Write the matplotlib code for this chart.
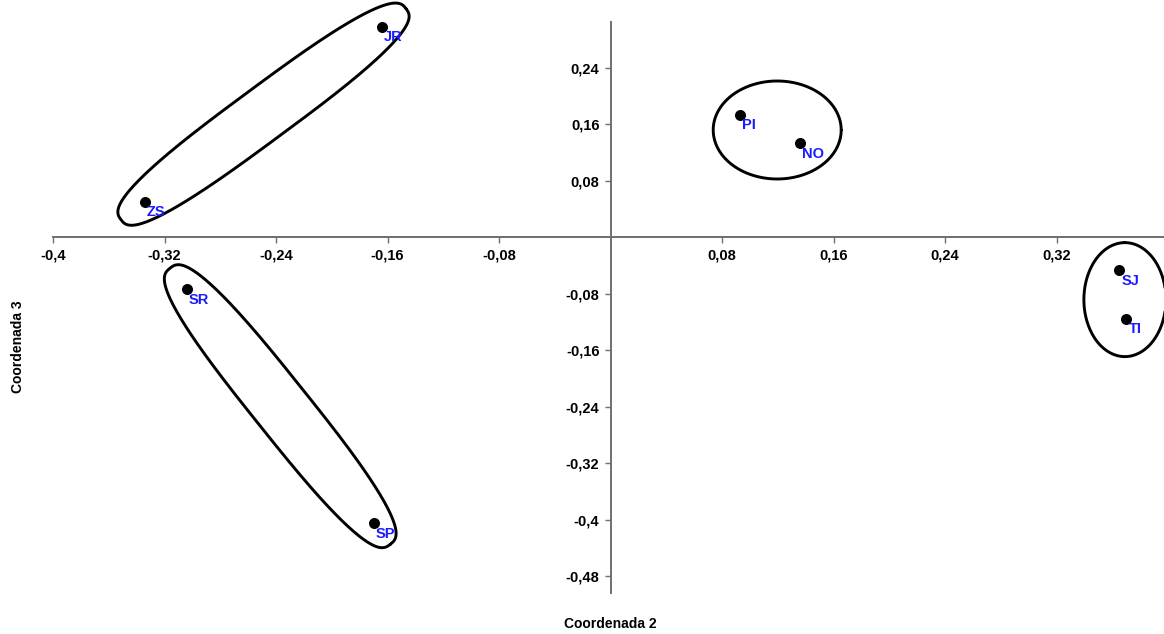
import numpy as np
import matplotlib
matplotlib.use("Agg")
import matplotlib.pyplot as plt

# ---- data ----
labels = ["JR", "ZS", "PI", "NO", "SR", "SP", "SJ", "TI"]
coord2 = [-0.164, -0.334, 0.093, 0.136, -0.304, -0.170, 0.365, 0.370]
coord3 = [0.298, 0.050, 0.173, 0.133, -0.074, -0.405, -0.047, -0.116]
xticks = [-0.4, -0.32, -0.24, -0.16, -0.08, 0.08, 0.16, 0.24, 0.32]
xticklabels = ["-0,4", "-0,32", "-0,24", "-0,16", "-0,08", "0,08", "0,16", "0,24", "0,32"]
yticks = [0.24, 0.16, 0.08, -0.08, -0.16, -0.24, -0.32, -0.4, -0.48]
yticklabels = ["0,24", "0,16", "0,08", "-0,08", "-0,16", "-0,24", "-0,32", "-0,4", "-0,48"]
groups = [["ZS", "JR"], ["SR", "SP"], ["PI", "NO"], ["SJ", "TI"]]

plt.rcParams['font.family'] = ['Liberation Sans', 'DejaVu Sans']

fig = plt.figure(figsize=(11.64, 6.34), dpi=100)
W, H = 1164, 634
ax = fig.add_axes([53 / W, (H - 593) / H, 1111 / W, 571 / H])
ax.set_xlim(-0.4, 0.397)
ax.set_ylim(-0.504, 0.3045)

for s in ["top", "right"]:
    ax.spines[s].set_visible(False)
ax.spines["left"].set_position(("data", 0))
ax.spines["bottom"].set_position(("data", 0))
for s in ["left", "bottom"]:
    ax.spines[s].set_color("#6f6f6f")
    ax.spines[s].set_linewidth(1.4)

ax.set_xticks(xticks)
ax.set_xticklabels(xticklabels)
ax.set_yticks(yticks)
ax.set_yticklabels(yticklabels)
ax.tick_params(axis="both", direction="out", length=4, width=1.0, color="#6f6f6f",
               labelsize=10.5, pad=4)
for t in ax.get_xticklabels() + ax.get_yticklabels():
    t.set_fontweight("bold")

# points
ax.scatter(coord2, coord3, s=48, color="black", zorder=3, clip_on=False)
for lab, x, y in zip(labels, coord2, coord3):
    ax.annotate(lab, (x, y), xytext=(1.5, -2.5), textcoords="offset points",
                ha="left", va="top", color="#1a1aff", fontsize=10.5,
                fontweight="bold", zorder=4)

# group outlines (computed in display space from member points)
outline_style = {
    ("ZS", "JR"): dict(mode="line", ext=30, half=27, n=2.8, off=(0, 0)),
    ("SR", "SP"): dict(mode="line", ext=27, half=28, n=2.8, off=(0, 0)),
    ("PI", "NO"): dict(mode="fixed", a=64, b=49, ang=0, n=2.0, off=(7, -1)),
    ("SJ", "TI"): dict(mode="fixed", a=57, b=41, ang=90, n=2.0, off=(2, -5)),
}
idx = {l: i for i, l in enumerate(labels)}
t = np.linspace(0, 2 * np.pi, 400)
for g in groups:
    st = outline_style[tuple(g)]
    pts = np.array([[coord2[idx[m]], coord3[idx[m]]] for m in g])
    disp = ax.transData.transform(pts)
    c = disp.mean(axis=0) + np.array(st["off"])
    if st["mode"] == "line":
        d = disp[1] - disp[0]
        ang = np.arctan2(d[1], d[0])
        a = np.hypot(*d) / 2 + st["ext"]
        b = st["half"]
    else:
        ang = np.deg2rad(st["ang"])
        a, b = st["a"], st["b"]
    n = st["n"]
    ct, sn = np.cos(t), np.sin(t)
    ex = a * np.sign(ct) * np.abs(ct) ** (2 / n)
    ey = b * np.sign(sn) * np.abs(sn) ** (2 / n)
    xr = c[0] + ex * np.cos(ang) - ey * np.sin(ang)
    yr = c[1] + ex * np.sin(ang) + ey * np.cos(ang)
    dat = ax.transData.inverted().transform(np.column_stack([xr, yr]))
    ax.plot(dat[:, 0], dat[:, 1], color="black", lw=2.1, clip_on=False, zorder=2,
            solid_joinstyle="round", solid_capstyle="round")

fig.text(610 / W, 1 - 624 / H, "Coordenada 2", ha="center", va="center",
         fontsize=10, fontweight="bold")
fig.text(18 / W, 1 - 347 / H, "Coordenada 3", ha="center", va="center",
         rotation=90, fontsize=10, fontweight="bold")

fig.savefig("out.png", dpi=100)
